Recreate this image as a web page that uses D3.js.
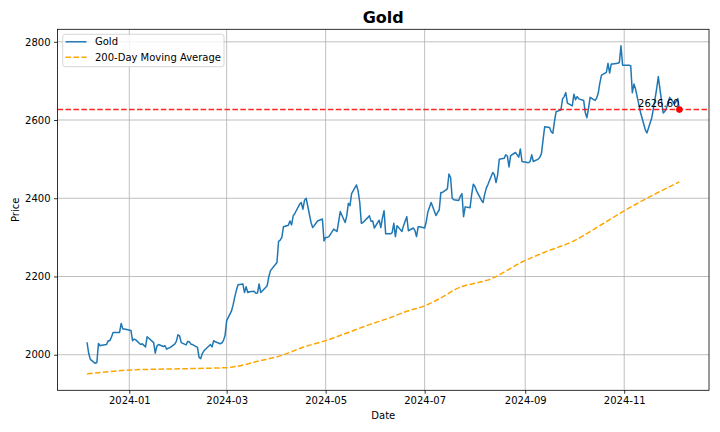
<!DOCTYPE html>
<html><head><meta charset="utf-8">
<script src="https://cdn.jsdelivr.net/npm/d3@7"></script>
<style>body{margin:0;background:#fff}svg{display:block}text{font-family:"DejaVu Sans",sans-serif}</style>
</head><body><svg id="c" width="720" height="432"></svg>
<script>
const dates = ["2023-12-06","2023-12-07","2023-12-08","2023-12-11","2023-12-12","2023-12-13","2023-12-14","2023-12-15","2023-12-18","2023-12-19","2023-12-20","2023-12-21","2023-12-22","2023-12-26","2023-12-27","2023-12-28","2023-12-29",
"2024-01-02","2024-01-03","2024-01-04","2024-01-05","2024-01-08","2024-01-09","2024-01-10","2024-01-11","2024-01-12","2024-01-16","2024-01-17","2024-01-18","2024-01-19","2024-01-22","2024-01-23","2024-01-24","2024-01-25","2024-01-26","2024-01-29","2024-01-30","2024-01-31",
"2024-02-01","2024-02-02","2024-02-05","2024-02-06","2024-02-07","2024-02-08","2024-02-09","2024-02-12","2024-02-13","2024-02-14","2024-02-15","2024-02-16","2024-02-20","2024-02-21","2024-02-22","2024-02-23","2024-02-26","2024-02-27","2024-02-28","2024-02-29",
"2024-03-01","2024-03-04","2024-03-05","2024-03-06","2024-03-07","2024-03-08","2024-03-11","2024-03-12","2024-03-13","2024-03-14","2024-03-15","2024-03-18","2024-03-19","2024-03-20","2024-03-21","2024-03-22","2024-03-25","2024-03-26","2024-03-27","2024-03-28",
"2024-04-01","2024-04-02","2024-04-03","2024-04-04","2024-04-05","2024-04-08","2024-04-09","2024-04-10","2024-04-11","2024-04-12","2024-04-15","2024-04-16","2024-04-17","2024-04-18","2024-04-19","2024-04-22","2024-04-23","2024-04-24","2024-04-25","2024-04-26","2024-04-29","2024-04-30",
"2024-05-01","2024-05-02","2024-05-03","2024-05-06","2024-05-07","2024-05-08","2024-05-09","2024-05-10","2024-05-13","2024-05-14","2024-05-15","2024-05-16","2024-05-17","2024-05-20","2024-05-21","2024-05-22","2024-05-23","2024-05-24","2024-05-28","2024-05-29","2024-05-30","2024-05-31",
"2024-06-03","2024-06-04","2024-06-05","2024-06-06","2024-06-07","2024-06-10","2024-06-11","2024-06-12","2024-06-13","2024-06-14","2024-06-17","2024-06-18","2024-06-20","2024-06-21","2024-06-24","2024-06-25","2024-06-26","2024-06-27","2024-06-28",
"2024-07-01","2024-07-02","2024-07-03","2024-07-05","2024-07-08","2024-07-09","2024-07-10","2024-07-11","2024-07-12","2024-07-15","2024-07-16","2024-07-17","2024-07-18","2024-07-19","2024-07-22","2024-07-23","2024-07-24","2024-07-25","2024-07-26","2024-07-29","2024-07-30","2024-07-31",
"2024-08-01","2024-08-02","2024-08-05","2024-08-06","2024-08-07","2024-08-08","2024-08-09","2024-08-12","2024-08-13","2024-08-14","2024-08-15","2024-08-16","2024-08-19","2024-08-20","2024-08-21","2024-08-22","2024-08-23","2024-08-26","2024-08-27","2024-08-28","2024-08-29","2024-08-30",
"2024-09-03","2024-09-04","2024-09-05","2024-09-06","2024-09-09","2024-09-10","2024-09-11","2024-09-12","2024-09-13","2024-09-16","2024-09-17","2024-09-18","2024-09-19","2024-09-20","2024-09-23","2024-09-24","2024-09-25","2024-09-26","2024-09-27","2024-09-30",
"2024-10-01","2024-10-02","2024-10-03","2024-10-04","2024-10-07","2024-10-08","2024-10-09","2024-10-10","2024-10-11","2024-10-14","2024-10-15","2024-10-16","2024-10-17","2024-10-18","2024-10-21","2024-10-22","2024-10-23","2024-10-24","2024-10-25","2024-10-28","2024-10-29","2024-10-30","2024-10-31",
"2024-11-01","2024-11-04","2024-11-05","2024-11-06","2024-11-07","2024-11-08","2024-11-11","2024-11-12","2024-11-13","2024-11-14","2024-11-15","2024-11-18","2024-11-19","2024-11-20","2024-11-21","2024-11-22","2024-11-25","2024-11-26","2024-11-27","2024-11-29",
"2024-12-02","2024-12-03","2024-12-04","2024-12-05"];

const gold = [2030,2003,1988,1978,1980,2029,2023,2024,2026,2036,2036,2045,2057,2057,2080,2066,2066,
2062,2036,2040,2038,2026,2028,2024,2020,2046,2031,2004,2022,2026,2021,2023,2014,2017,2018,2027,2034,2051,
2048,2031,2025,2034,2033,2027,2026,2019,1993,1990,2003,2010,2026,2020,2036,2033,2028,2030,2036,2049,
2087,2112,2128,2148,2165,2179,2181,2159,2174,2159,2161,2162,2157,2158,2181,2159,2172,2177,2200,2215,
2236,2290,2293,2300,2327,2331,2342,2332,2355,2361,2385,2389,2372,2395,2400,2338,2325,2330,2336,2342,2347,2291,
2300,2300,2302,2321,2318,2315,2340,2366,2338,2355,2387,2381,2412,2434,2419,2390,2336,2338,2355,2341,2342,2324,
2344,2325,2350,2368,2309,2309,2312,2336,2302,2330,2315,2330,2353,2317,2324,2318,2302,2327,2327,
2324,2340,2365,2389,2356,2364,2370,2415,2415,2424,2462,2453,2400,2396,2394,2405,2412,2353,2378,2376,2410,2436,
2430,2419,2395,2389,2410,2426,2435,2466,2460,2440,2460,2500,2502,2511,2508,2480,2509,2517,2511,2505,2526,2494,
2491,2494,2511,2494,2500,2505,2514,2550,2583,2581,2570,2566,2596,2621,2626,2654,2660,2670,2643,2636,
2666,2652,2660,2654,2650,2619,2606,2630,2658,2650,2656,2669,2695,2715,2722,2745,2720,2743,2743,2745,2747,2790,2740,
2740,2740,2739,2670,2692,2679,2620,2605,2590,2575,2567,2606,2630,2654,2680,2711,2618,2622,2630,2658,
2641,2648,2655,2626.60];

const maDates = ["2023-12-06","2023-12-20","2024-01-02","2024-02-01","2024-03-01","2024-03-22","2024-04-03","2024-04-17","2024-05-01","2024-05-15","2024-05-28","2024-06-10","2024-06-20","2024-07-01","2024-07-15","2024-07-19","2024-08-12","2024-08-30","2024-09-13","2024-10-01","2024-10-15","2024-11-01","2024-11-15","2024-12-05"];
const maValues = [1951,1957,1961,1964,1967,1985,1997,2019,2036,2057,2077,2095,2111,2125,2155,2165,2196,2237,2262,2291,2325,2368,2400,2442];

const lastPrice = 2626.60;
const yTicks = [2000,2200,2400,2600,2800];
const xTicks = ["2024-01-01","2024-03-01","2024-05-01","2024-07-01","2024-09-01","2024-11-01"];
const seriesNames = ["Gold","200-Day Moving Average"];
const titleText = "Gold";

const parse = d3.utcParse("%Y-%m-%d");
const goldData = dates.map((d,i)=>({date:parse(d), v:gold[i]}));
const maData = maDates.map((d,i)=>({date:parse(d), v:maValues[i]}));

const L=57.5, R=709, T=29.3, B=390.3;
const svg = d3.select("#c");

const xExt = d3.extent(goldData, d=>d.date);
const xPad = (xExt[1]-xExt[0])*0.05;
const x = d3.scaleUtc().domain([new Date(+xExt[0]-xPad), new Date(+xExt[1]+xPad)]).range([L,R]);
const allV = gold.concat(maValues);
const yMin = d3.min(allV), yMax = d3.max(allV), yPad=(yMax-yMin)*0.05;
const y = d3.scaleLinear().domain([yMin-yPad, yMax+yPad]).range([B,T]);

// grid
const g = svg.append("g");
g.selectAll("line.gx").data(xTicks).join("line")
 .attr("x1",d=>x(parse(d))).attr("x2",d=>x(parse(d))).attr("y1",T).attr("y2",B)
 .attr("stroke","#b0b0b0").attr("stroke-width",0.8);
g.selectAll("line.gy").data(yTicks).join("line")
 .attr("x1",L).attr("x2",R).attr("y1",d=>y(d)).attr("y2",d=>y(d))
 .attr("stroke","#b0b0b0").attr("stroke-width",0.8);

const clip = svg.append("clipPath").attr("id","clip").append("rect").attr("x",L).attr("y",T).attr("width",R-L).attr("height",B-T);
const plot = svg.append("g").attr("clip-path","url(#clip)");

const line = d3.line().x(d=>x(d.date)).y(d=>y(d.v));
plot.append("path").datum(goldData).attr("d",line).attr("fill","none")
 .attr("stroke","#1f77b4").attr("stroke-width",1.5).attr("stroke-linejoin","round").attr("stroke-linecap","square");
plot.append("path").datum(maData).attr("d",d3.line().x(d=>x(d.date)).y(d=>y(d.v)).curve(d3.curveMonotoneX)).attr("fill","none")
 .attr("stroke","#ffa500").attr("stroke-width",1.5).attr("stroke-dasharray","5.55,2.4");
plot.append("line").attr("x1",L).attr("x2",R).attr("y1",y(lastPrice)).attr("y2",y(lastPrice))
 .attr("stroke","#ff0000").attr("stroke-opacity",0.85).attr("stroke-width",1.5).attr("stroke-dasharray","5.55,2.4");
const last = goldData[goldData.length-1];
svg.append("circle").attr("cx",x(last.date)).attr("cy",y(last.v)).attr("r",3.3).attr("fill","#ff0000");
svg.append("text").attr("x",x(last.date)).attr("y",y(last.v)-2.2).attr("text-anchor","end")
 .attr("font-size",10).attr("fill","#000").text(lastPrice.toFixed(2));

// axes
const xAxis = d3.axisBottom(x).tickValues(xTicks.map(parse)).tickFormat(d3.utcFormat("%Y-%m")).tickSizeOuter(0).tickSize(3.5).tickPadding(3.5);
const yAxis = d3.axisLeft(y).tickValues(yTicks).tickFormat(d3.format("d")).tickSizeOuter(0).tickSize(3.5).tickPadding(3.5);
const ax = svg.append("g").attr("transform",`translate(0,${B})`).call(xAxis);
const ay = svg.append("g").attr("transform",`translate(${L},0)`).call(yAxis);
[ax,ay].forEach(a=>{
  a.select(".domain").remove();
  a.selectAll(".tick line").attr("stroke","#000").attr("stroke-width",0.8);
  a.selectAll(".tick text").attr("font-size",10).attr("fill","#000").attr("font-family","DejaVu Sans");
});
// spines
svg.append("rect").attr("x",L).attr("y",T).attr("width",R-L).attr("height",B-T)
 .attr("fill","none").attr("stroke","#000").attr("stroke-width",0.8);

// labels
svg.append("text").attr("x",(L+R)/2).attr("y",23).attr("text-anchor","middle")
 .attr("font-size",16).attr("font-weight","bold").text(titleText);
svg.append("text").attr("x",(L+R)/2).attr("y",419).attr("text-anchor","middle").attr("font-size",10).text("Date");
svg.append("text").attr("transform",`translate(19,${(T+B)/2}) rotate(-90)`).attr("text-anchor","middle").attr("font-size",10).text("Price");

// legend
const lg = svg.append("g");
lg.append("rect").attr("x",62.7).attr("y",34.3).attr("width",161.3).attr("height",32.4).attr("rx",2.5)
 .attr("fill","#fff").attr("fill-opacity",0.8).attr("stroke","#cccccc").attr("stroke-width",0.8);
const legendItems = [{name:seriesNames[0],color:"#1f77b4",dash:null},{name:seriesNames[1],color:"#ffa500",dash:"5.55,2.4"}];
legendItems.forEach((it,i)=>{
  const yy = 41.8 + i*15.5;
  const l = lg.append("line").attr("x1",65.5).attr("x2",86.5).attr("y1",yy).attr("y2",yy)
    .attr("stroke",it.color).attr("stroke-width",1.5);
  if(it.dash) l.attr("stroke-dasharray",it.dash);
  lg.append("text").attr("x",95).attr("y",yy+3.6).attr("font-size",10).attr("fill","#000").text(it.name);
});
</script></body></html>
